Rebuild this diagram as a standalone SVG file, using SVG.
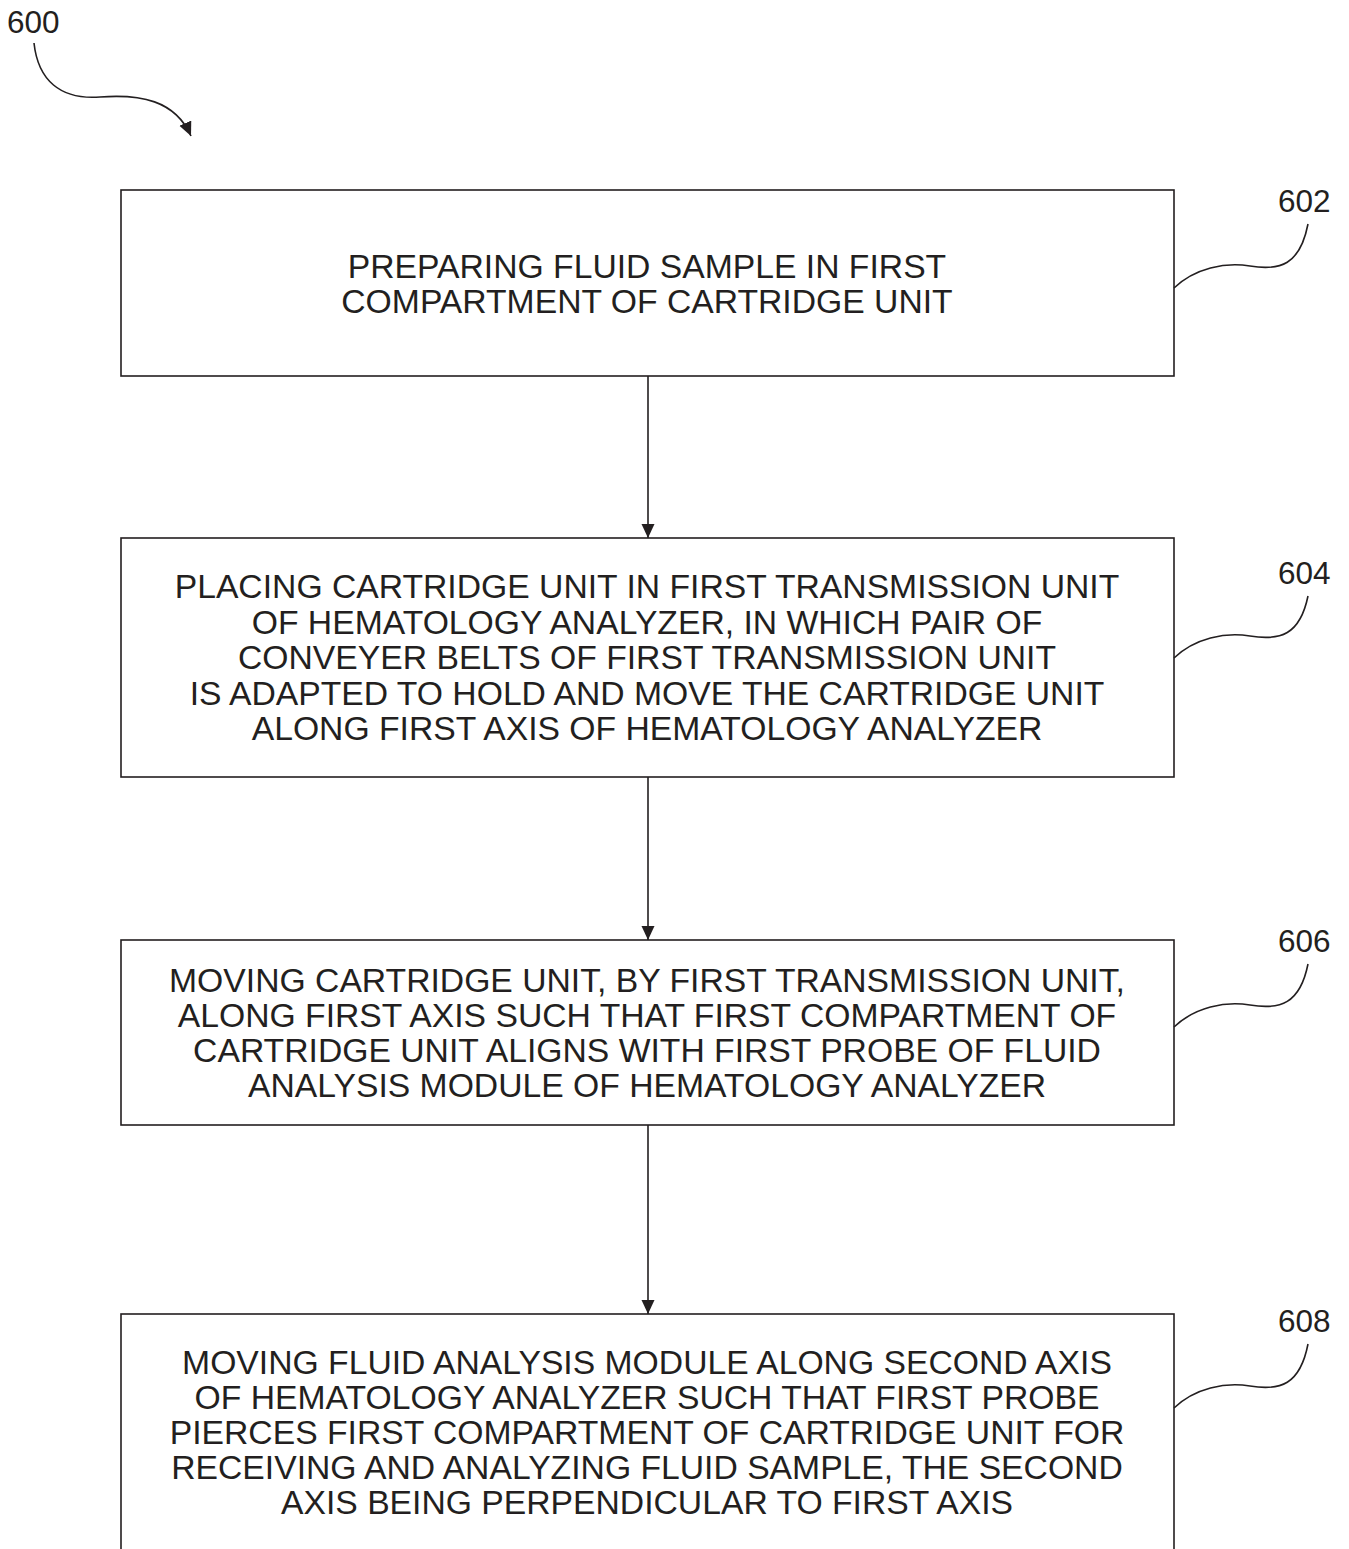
<svg xmlns="http://www.w3.org/2000/svg" width="1349" height="1549" viewBox="0 0 1349 1549">
<style>
  .box { fill: #fff; stroke: #231f20; stroke-width: 1.6; }
  .txt { font-family: "Liberation Sans", Arial, sans-serif; font-size: 33.7px; fill: #231f20; text-anchor: middle; }
  .ref { font-family: "Liberation Sans", Arial, sans-serif; font-size: 31.5px; fill: #231f20; }
  .lead { fill: none; stroke: #231f20; stroke-width: 1.6; }
  .edge { fill: none; stroke: #231f20; stroke-width: 1.6; marker-end: url(#ah); }
</style>
<defs>
  <marker id="ah" markerWidth="16" markerHeight="16" refX="14" refY="6.5" orient="auto" markerUnits="userSpaceOnUse">
    <path d="M0,0 L14,6.5 L0,13 Z" fill="#231f20"/>
  </marker>
</defs>
<rect width="1349" height="1549" fill="#fff"/>

<!-- figure reference -->
<g id="fig600">
  <text class="ref" x="7" y="33">600</text>
  <path class="edge" d="M34,43 C38,80 60,100 100,97 C140,94 175,100 191,136"/>
</g>

<g id="n602">
  <rect class="box" x="121" y="190" width="1053" height="186"/>
  <text class="txt" x="647" y="278">PREPARING FLUID SAMPLE IN FIRST</text>
  <text class="txt" x="647" y="313">COMPARTMENT OF CARTRIDGE UNIT</text>
  <text class="ref" x="1278" y="212">602</text>
  <path class="lead" d="M1174,288 C1195,268 1225,262 1250,266 C1280,271 1300,265 1308,224"/>
</g>

<g id="n604">
  <rect class="box" x="121" y="538" width="1053" height="239"/>
  <text class="txt" x="647" y="598">PLACING CARTRIDGE UNIT IN FIRST TRANSMISSION UNIT</text>
  <text class="txt" x="647" y="634">OF HEMATOLOGY ANALYZER, IN WHICH PAIR OF</text>
  <text class="txt" x="647" y="669">CONVEYER BELTS OF FIRST TRANSMISSION UNIT</text>
  <text class="txt" x="647" y="705">IS ADAPTED TO HOLD AND MOVE THE CARTRIDGE UNIT</text>
  <text class="txt" x="647" y="740">ALONG FIRST AXIS OF HEMATOLOGY ANALYZER</text>
  <text class="ref" x="1278" y="584">604</text>
  <path class="lead" d="M1174,658 C1195,638 1225,632 1250,636 C1280,641 1300,635 1308,596"/>
</g>

<g id="n606">
  <rect class="box" x="121" y="940" width="1053" height="185"/>
  <text class="txt" x="647" y="992">MOVING CARTRIDGE UNIT, BY FIRST TRANSMISSION UNIT,</text>
  <text class="txt" x="647" y="1027">ALONG FIRST AXIS SUCH THAT FIRST COMPARTMENT OF</text>
  <text class="txt" x="647" y="1062">CARTRIDGE UNIT ALIGNS WITH FIRST PROBE OF FLUID</text>
  <text class="txt" x="647" y="1097">ANALYSIS MODULE OF HEMATOLOGY ANALYZER</text>
  <text class="ref" x="1278" y="952">606</text>
  <path class="lead" d="M1174,1027 C1195,1007 1225,1001 1250,1005 C1280,1010 1300,1004 1308,964"/>
</g>

<g id="n608">
  <rect class="box" x="121" y="1314" width="1053" height="260"/>
  <text class="txt" x="647" y="1374">MOVING FLUID ANALYSIS MODULE ALONG SECOND AXIS</text>
  <text class="txt" x="647" y="1409">OF HEMATOLOGY ANALYZER SUCH THAT FIRST PROBE</text>
  <text class="txt" x="647" y="1444">PIERCES FIRST COMPARTMENT OF CARTRIDGE UNIT FOR</text>
  <text class="txt" x="647" y="1479">RECEIVING AND ANALYZING FLUID SAMPLE, THE SECOND</text>
  <text class="txt" x="647" y="1514">AXIS BEING PERPENDICULAR TO FIRST AXIS</text>
  <text class="ref" x="1278" y="1332">608</text>
  <path class="lead" d="M1174,1408 C1195,1388 1225,1382 1250,1386 C1280,1391 1300,1385 1308,1344"/>
</g>

<g id="connectors">
  <path class="edge" d="M648,376 V538"/>
  <path class="edge" d="M648,777 V940"/>
  <path class="edge" d="M648,1125 V1314"/>
</g>
</svg>
